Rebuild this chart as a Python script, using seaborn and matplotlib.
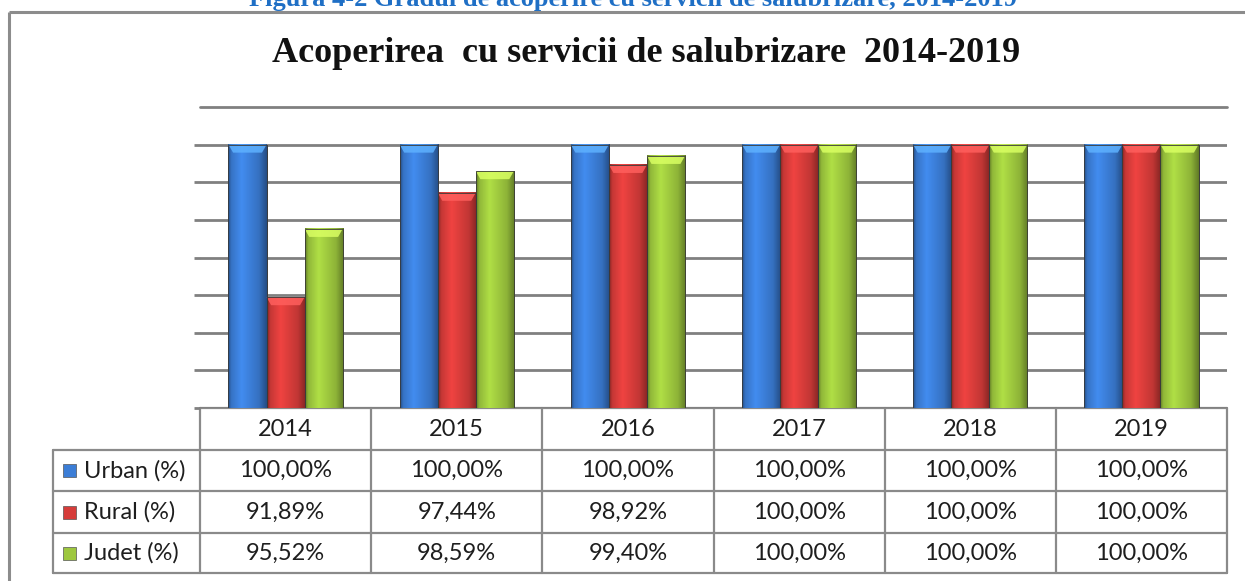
import numpy as np
import pandas as pd
import seaborn as sns
import matplotlib.pyplot as plt
from matplotlib.colors import to_rgb
from matplotlib.patches import Polygon, Rectangle

years = ['2014', '2015', '2016', '2017', '2018', '2019']
series = ['Urban (%)', 'Rural (%)', 'Judet (%)']
urban = [100.00, 100.00, 100.00, 100.00, 100.00, 100.00]
rural = [91.89, 97.44, 98.92, 100.00, 100.00, 100.00]
judet = [95.52, 98.59, 99.40, 100.00, 100.00, 100.00]
colors = ['#3b7dd6', '#d63c3a', '#9dc73e']

df = pd.DataFrame({
    'an': years * 3,
    'serie': np.repeat(series, len(years)),
    'val': urban + rural + judet,
})

sns.set_theme(style='white')
plt.rcParams['font.family'] = ['Lato', 'DejaVu Sans']

W, H = 1245, 581
fig = plt.figure(figsize=(W / 100, H / 100), dpi=100)

# main plot area
ax = fig.add_axes([200 / W, 1 - 408 / H, 1027 / W, 301 / H])
ax.set_facecolor('none')
sns.barplot(data=df, x='an', y='val', hue='serie', palette=colors, width=0.667,
            gap=0, saturation=1, legend=False, edgecolor='#3a3a3a', linewidth=0.6, ax=ax)
ymin, ymax = 86, 102
ax.set_ylim(ymin, ymax)
ax.set_xlim(-0.5, 5.5)
ax.set_yticks(np.arange(ymin, ymax, 2))
ax.yaxis.grid(True, color='#808080', lw=2)
ax.axhline(ymax, color='#808080', lw=2, clip_on=False, zorder=0.5)
ax.set_axisbelow(True)
ax.tick_params(axis='y', left=True, length=4, width=2, color='#808080', labelleft=False)
ax.tick_params(axis='x', bottom=False, labelbottom=False)
ax.set_xlabel('')
ax.set_ylabel('')
sns.despine(ax=ax, left=True, bottom=True, top=True, right=True)

# cylinder-like shading for each bar
pos = np.array([0, 0.08, 0.35, 0.8, 1.0])
fac = np.array([0.62, 0.92, 1.12, 0.9, 0.62])
t = np.linspace(0, 1, 64)
px_per_unit = 301 / (ymax - ymin)
for p in list(ax.patches):
    if p.get_height() <= 0:
        continue
    base = np.array(to_rgb(p.get_facecolor()))
    f = np.interp(t, pos, fac)
    grad = np.clip(base[None, :] * f[:, None], 0, 1)[None, :, :]
    x0, w = p.get_x(), p.get_width()
    top = p.get_y() + p.get_height()
    lo = max(p.get_y(), ymin)
    ax.imshow(grad, extent=[x0, x0 + w, lo, top], aspect='auto',
              interpolation='bilinear', zorder=p.get_zorder() + 0.1)
    dy = 8 / px_per_unit
    dx = w * 0.12
    light = np.clip(base * 1.25 + 0.08, 0, 1)
    ax.add_patch(Polygon([(x0, top), (x0 + w, top), (x0 + w - dx, top - dy), (x0 + dx, top - dy)],
                         closed=True, facecolor=light, edgecolor='none', alpha=0.85,
                         zorder=p.get_zorder() + 0.2))
    ax.add_patch(Rectangle((x0, lo), w, top - lo, fill=False, edgecolor='#3a3a3a', lw=0.6,
                           zorder=p.get_zorder() + 0.3))
ax.set_xlim(-0.5, 5.5)
ax.set_ylim(ymin, ymax)

# overlay in pixel coordinates for table, title, frame
ov = fig.add_axes([0, 0, 1, 1], zorder=-1)
ov.set_xlim(0, W)
ov.set_ylim(H, 0)
ov.axis('off')

fig.canvas.draw()
x_edges = [ax.transData.transform((i - 0.5, ymin))[0] for i in range(len(years) + 1)]
y_edges = [408, 450, 491, 533, 573]
lab_left = 53
lc = '#8a8a8a'
lw = 1.6

ov.plot([x_edges[0], x_edges[-1]], [y_edges[0]] * 2, color=lc, lw=lw)
for y in y_edges[1:]:
    ov.plot([lab_left, x_edges[-1]], [y, y], color=lc, lw=lw)
ov.plot([lab_left, lab_left], [y_edges[1], y_edges[-1]], color=lc, lw=lw)
for x in x_edges:
    ov.plot([x, x], [y_edges[0], y_edges[-1]], color=lc, lw=lw)

tfs = 17
tcol = '#1e1e1e'
for i, yr in enumerate(years):
    cx = (x_edges[i] + x_edges[i + 1]) / 2
    ov.text(cx, (y_edges[0] + y_edges[1]) / 2, yr, ha='center', va='center',
            fontsize=tfs, color=tcol)

rows = [urban, rural, judet]
for r, (name, vals) in enumerate(zip(series, rows)):
    cy = (y_edges[r + 1] + y_edges[r + 2]) / 2
    ov.add_patch(Rectangle((63, cy - 6.5), 13, 13, facecolor=colors[r],
                           edgecolor='#555555', lw=0.5))
    ov.text(84, cy, name, ha='left', va='center', fontsize=tfs, color=tcol)
    for i, v in enumerate(vals):
        cx = (x_edges[i] + x_edges[i + 1]) / 2
        ov.text(cx, cy, f'{v:.2f}'.replace('.', ',') + '%', ha='center', va='center',
                fontsize=tfs, color=tcol)

# outer frame (top and left edges)
ov.plot([9, W], [12, 12], color='#8c8c8c', lw=2.2, solid_capstyle='butt')
ov.plot([9, 9], [12, H], color='#8c8c8c', lw=2.2, solid_capstyle='butt')

# titles
ov.text(646, 54, 'Acoperirea  cu servicii de salubrizare  2014-2019', ha='center', va='center',
        fontsize=26, fontweight='bold', family=['Liberation Serif', 'DejaVu Serif'], color='#111111')
ov.text(633, 6, 'Figura 4-2 Gradul de acoperire cu servicii de salubrizare, 2014-2019',
        ha='center', va='baseline', fontsize=19, fontweight='bold',
        family=['Liberation Serif', 'DejaVu Serif'], color='#1f6fc5')

fig.savefig('out.png', dpi=100)
